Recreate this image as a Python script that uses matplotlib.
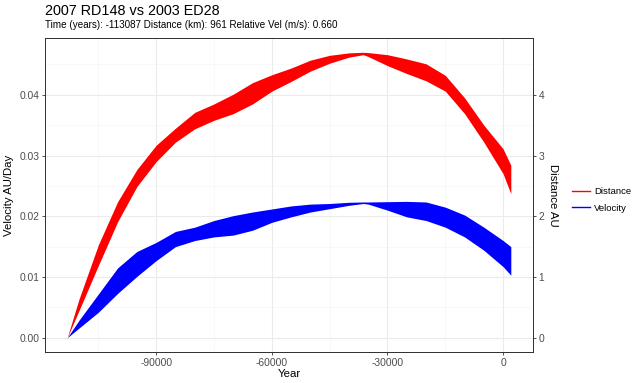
import numpy as np
import matplotlib
matplotlib.use('Agg')
import matplotlib.pyplot as plt
from matplotlib.lines import Line2D

plt.rcParams['font.family'] = ['Liberation Sans', 'DejaVu Sans']
plt.rcParams['axes.unicode_minus'] = False

# years before present
years = [-113087, -110000, -105000, -100000, -95000, -90000, -85000, -80000,
         -75000, -70000, -65000, -60000, -55000, -50000, -45000, -40000,
         -36300, -35000, -30000, -25000, -20000, -15000, -10000, -5000, 0, 2000]

# distance band (AU)
dist_hi = [0, 0.64, 1.53, 2.24, 2.77, 3.17, 3.45, 3.71, 3.85, 4.01, 4.20, 4.33, 4.44,
           4.57, 4.65, 4.69, 4.70, 4.695, 4.66, 4.59, 4.51, 4.32, 3.95, 3.50, 3.11, 2.84]
dist_lo = [0, 0.45, 1.19, 1.91, 2.49, 2.90, 3.22, 3.44, 3.58, 3.69, 3.85, 4.06, 4.22,
           4.39, 4.52, 4.62, 4.66, 4.63, 4.48, 4.35, 4.23, 4.06, 3.69, 3.22, 2.70, 2.37]

# velocity band (AU/day)
vel_hi = [0, 0.0029, 0.0072, 0.0115, 0.0142, 0.0157, 0.0175, 0.0182, 0.0193, 0.0201,
          0.0207, 0.0212, 0.0217, 0.0220, 0.0221, 0.0223, 0.02235, 0.02235, 0.0224,
          0.02245, 0.02235, 0.0215, 0.0202, 0.0182, 0.0160, 0.0150]
vel_lo = [0, 0.0016, 0.0042, 0.0073, 0.0101, 0.0127, 0.0150, 0.0160, 0.0166, 0.0169,
          0.0177, 0.0190, 0.0199, 0.0207, 0.02125, 0.0218, 0.0221, 0.0220, 0.0210,
          0.0199, 0.0193, 0.0182, 0.0166, 0.0144, 0.0117, 0.0103]

x_ticks = [-90000, -60000, -30000, 0]
vel_ticks = [0, 0.01, 0.02, 0.03, 0.04]
dist_ticks = [0, 1, 2, 3, 4]
scale = 100  # distance AU -> velocity axis units

title = "2007 RD148 vs 2003 ED28"
subtitle = "Time (years): -113087 Distance (km): 961 Relative Vel (m/s): 0.660"

border = '#333333'
grid_major = '#EBEBEB'
grid_minor = '#F5F5F5'
tick_txt = '#4D4D4D'

fig = plt.figure(figsize=(6.4, 3.83), dpi=100)
ax = fig.add_axes([45/640, 1 - 352/383, (533-45)/640, (352-38)/383])
ax2 = ax.twinx()

x = np.array(years)
ax.fill_between(x, vel_lo, vel_hi, color='#0000FF', linewidth=0)
ax2.fill_between(x, dist_lo, dist_hi, color='#FF0000', linewidth=0)

# ggplot-like 5% expansion
xr = x.max() - x.min()
ax.set_xlim(x.min() - 0.05*xr, x.max() + 0.05*xr)
top = max(max(vel_hi), max(dist_hi)/scale)
ax.set_ylim(-0.05*top, 1.05*top)
ax2.set_ylim(-0.05*top*scale, 1.05*top*scale)

ax.set_xticks(x_ticks)
ax.set_xticklabels([str(t) for t in x_ticks])
ax.set_xticks([-105000, -75000, -45000, -15000], minor=True)
ax.set_yticks(vel_ticks)
ax.set_yticklabels(['%.2f' % t for t in vel_ticks])
ax.set_yticks(np.arange(0.005, 0.05, 0.01), minor=True)
ax2.set_yticks(dist_ticks)
ax2.set_yticklabels([str(t) for t in dist_ticks])

ax.set_axisbelow(True)
ax.grid(True, which='major', color=grid_major, linewidth=0.8)
ax.grid(True, which='minor', color=grid_minor, linewidth=0.5)

for a in (ax, ax2):
    for s in a.spines.values():
        s.set_color(border)
        s.set_linewidth(0.7)
    a.tick_params(which='major', length=2, width=0.6, color=border,
                  labelsize=7.4, labelcolor=tick_txt, pad=2)
    a.tick_params(which='minor', length=0)

ax.set_xlabel('Year', fontsize=8.2, va='center', ha='center')
ax.xaxis.set_label_coords(0.5, (352 - 374) / 314)
ax.set_ylabel('Velocity AU/Day', fontsize=8.2, va='center', ha='center')
ax.yaxis.set_label_coords((9.5 - 45) / 488, 0.5)
ax2.set_ylabel('Distance AU', fontsize=8.2, rotation=270, va='center', ha='center')
ax2.yaxis.set_label_coords((553 - 45) / 488, 0.5)

fig.text(45/640, 1 - 15/383, title, fontsize=10.4, va='baseline', ha='left')
fig.text(45/640, 1 - 27.5/383, subtitle, fontsize=7.1, va='baseline', ha='left')

handles = [Line2D([], [], color='#FF0000', linewidth=1.0),
           Line2D([], [], color='#0000FF', linewidth=1.0)]
fig.legend(handles, ['Distance', 'Velocity'], loc='center left',
           bbox_to_anchor=(569/640, 1 - 200/383), frameon=False,
           fontsize=6.8, handlelength=1.9, handletextpad=0.45,
           labelspacing=0.75, borderaxespad=0, borderpad=0.3)

fig.savefig('out.png', dpi=100)
